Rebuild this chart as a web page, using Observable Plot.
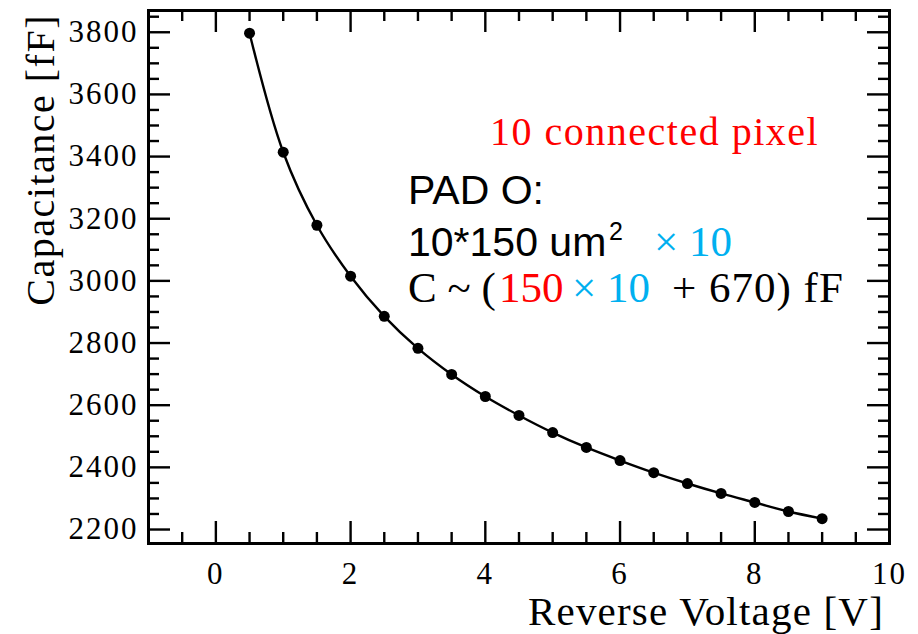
<!DOCTYPE html>
<html><head><meta charset="utf-8">
<script src="https://cdn.jsdelivr.net/npm/d3@7"></script>
<script src="https://cdn.jsdelivr.net/npm/@observablehq/plot@0.6"></script>
<style>body{margin:0;background:#fff} #chart{width:918px;height:634px}</style>
</head><body><div id="chart"></div>
<script>
// ---- data ----
const voltage = [0.5, 1, 1.5, 2, 2.5, 3, 3.5, 4, 4.5, 5, 5.5, 6, 6.5, 7, 7.5, 8, 8.5, 9];
const capacitance = [3797, 3414, 3179, 3015, 2886, 2783, 2699, 2628, 2567, 2512, 2464, 2422, 2383, 2348, 2316, 2287, 2258, 2235];
const xMajorTicks = [0, 2, 4, 6, 8, 10];
const xMinorTicks = [-0.5, 0.5, 1, 1.5, 2.5, 3, 3.5, 4.5, 5, 5.5, 6.5, 7, 7.5, 8.5, 9, 9.5];
const yMajorTicks = [2200, 2400, 2600, 2800, 3000, 3200, 3400, 3600, 3800];
const yMinorTicks = [2250, 2300, 2350, 2450, 2500, 2550, 2650, 2700, 2750, 2850, 2900, 2950, 3050, 3100, 3150, 3250, 3300, 3350, 3450, 3500, 3550, 3650, 3700, 3750, 3850];
const xTitle = "Reverse Voltage [V]";
const yTitle = "Capacitance [fF]";

const data = voltage.map((v, i) => ({v, c: capacitance[i]}));

const W = 918, H = 634;
const mL = 148, mR = 29, mT = 10, mB = 91;
const iW = W - mL - mR, iH = H - mT - mB;
const major = 22, minor = 11;
const serif = "'Liberation Serif', 'Times New Roman', serif";
const sans = "'Liberation Sans', Arial, sans-serif";
const tw = 2.4;

const plot = Plot.plot({
  width: W, height: H,
  marginLeft: mL, marginRight: mR, marginTop: mT, marginBottom: mB,
  style: {fontFamily: serif, fontSize: "31px", color: "black", background: "white"},
  x: {domain: [-1, 10], label: null},
  y: {domain: [2155, 3870], label: null},
  marks: [
    // ticks on all four sides (inward)
    Plot.ruleX(xMajorTicks, {x: d => d, insetTop: iH - major, strokeWidth: tw}),
    Plot.ruleX(xMajorTicks, {x: d => d, insetBottom: iH - major, strokeWidth: tw}),
    Plot.ruleX(xMinorTicks, {x: d => d, insetTop: iH - minor, strokeWidth: tw}),
    Plot.ruleX(xMinorTicks, {x: d => d, insetBottom: iH - minor, strokeWidth: tw}),
    Plot.ruleY(yMajorTicks, {y: d => d, insetRight: iW - major, strokeWidth: tw}),
    Plot.ruleY(yMajorTicks, {y: d => d, insetLeft: iW - major, strokeWidth: tw}),
    Plot.ruleY(yMinorTicks, {y: d => d, insetRight: iW - minor, strokeWidth: tw}),
    Plot.ruleY(yMinorTicks, {y: d => d, insetLeft: iW - minor, strokeWidth: tw}),
    Plot.axisX({ticks: xMajorTicks, tickSize: 0, tickPadding: 18, tickFormat: d => String(d), fontFamily: serif, fontSize: 31}),
    Plot.axisY({ticks: yMajorTicks, tickSize: 0, tickPadding: 10, tickFormat: d => String(d), fontFamily: serif, fontSize: 31}),
    Plot.frame({stroke: "black", strokeWidth: 3}),
    Plot.line(data, {x: "v", y: "c", curve: "catmull-rom", stroke: "black", strokeWidth: 2.4}),
    Plot.dot(data, {x: "v", y: "c", r: 5.5, fill: "black"})
  ]
});
document.getElementById("chart").append(plot);

const svg = d3.select(plot);
svg.selectAll("g[aria-label='x-axis tick label'] text, g[aria-label='y-axis tick label'] text")
  .style("font-family", serif).style("letter-spacing", "2px");

const g = svg.append("g").attr("text-anchor", "start");
// axis titles
g.append("text").attr("x", 884).attr("y", 625).attr("text-anchor", "end")
  .style("font-family", serif).style("font-size", "41px").style("letter-spacing", "1.2px")
  .attr("fill", "black").text(xTitle);
g.append("text").attr("transform", "translate(54,14) rotate(-90)").attr("text-anchor", "end")
  .style("font-family", serif).style("font-size", "40px").style("letter-spacing", "1.5px")
  .attr("fill", "black").text(yTitle);

// annotations
const red = "#ff0000", blue = "#00b0f0";
g.append("text").attr("x", 490).attr("y", 145).attr("fill", red).attr("text-anchor", "start")
  .style("font-family", serif).style("font-size", "40px").style("letter-spacing", "1.5px")
  .text("10 connected pixel");
g.append("text").attr("x", 408).attr("y", 204).attr("fill", "black").attr("text-anchor", "start")
  .style("font-family", sans).style("font-size", "41px").text("PAD O:");
const l2 = g.append("text").attr("y", 256).attr("text-anchor", "start").style("font-size", "41px");
l2.append("tspan").attr("x", 408).attr("fill", "black").style("font-family", sans).text("10*150 um");
l2.append("tspan").attr("x", 609).attr("y", 240).attr("fill", "black").style("font-family", sans).style("font-size", "25px").text("2");
l2.append("tspan").attr("x", 654).attr("y", 256).attr("fill", blue).style("font-family", serif).style("font-size", "43px").text("× 10");
const l3 = g.append("text").attr("y", 302).attr("text-anchor", "start").style("font-family", serif).style("font-size", "43px");
l3.append("tspan").attr("x", 408).attr("fill", "black").text("C ~ (");
l3.append("tspan").attr("x", 499).attr("fill", red).text("150");
l3.append("tspan").attr("x", 572).attr("fill", blue).text("× 10");
l3.append("tspan").attr("x", 672).attr("fill", "black").style("letter-spacing", "1px").text("+ 670) fF");
</script>
</body></html>
